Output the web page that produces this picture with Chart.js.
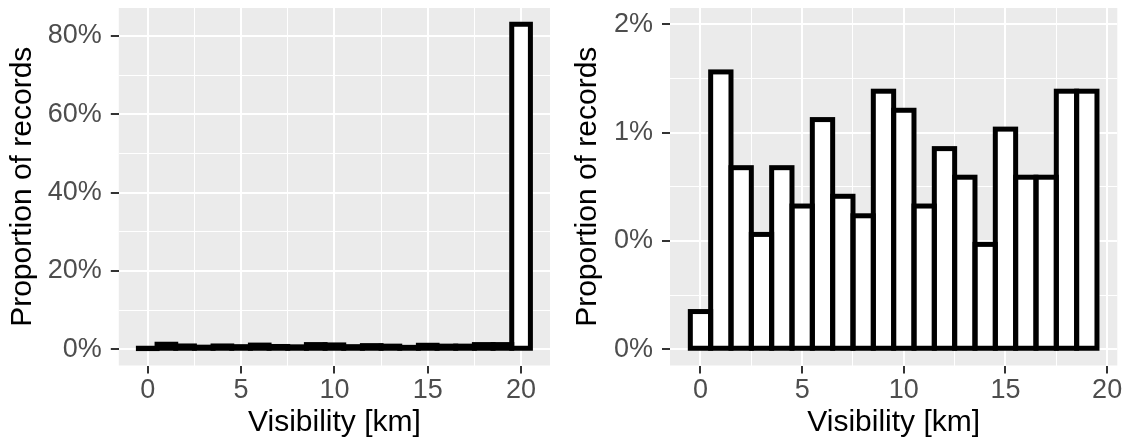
<!DOCTYPE html>
<html>
<head>
<meta charset="utf-8">
<script src="https://cdn.jsdelivr.net/npm/chart.js@4"></script>
<style>
  html, body { margin: 0; padding: 0; background: #ffffff; }
  .plot { position: absolute; top: 0; width: 564px; height: 443px; }
  #left { left: 0; }
  #right { left: 565px; }
</style>
</head>
<body>
<div class="plot" id="left"><canvas id="allChart"></canvas></div>
<div class="plot" id="right"><canvas id="lowChart"></canvas></div>
<script>
// visibility bins (km) and share of records in each bin (%)
const visibilityKm = [0, 1, 2, 3, 4, 5, 6, 7, 8, 9, 10, 11, 12, 13, 14, 15, 16, 17, 18, 19, 20];
const recordShare = [0.174, 1.280, 0.838, 0.530, 0.838, 0.661, 1.060, 0.706, 0.616, 1.191,
                     1.103, 0.661, 0.926, 0.794, 0.484, 1.016, 0.794, 0.794, 1.191, 1.191, 83.0];

// right panel: only bins below 20 km
const lowVisibilityKm = visibilityKm.slice(0, 20);
const lowRecordShare = recordShare.slice(0, 20);

const xTicks = [0, 5, 10, 15, 20];
const xTickLabels = ['0', '5', '10', '15', '20'];
const allYTicks = [0, 20, 40, 60, 80];
const allYTickLabels = ['0%', '20%', '40%', '60%', '80%'];
const lowYTicks = [0, 0.5, 1, 1.5];
const lowYTickLabels = ['0%', '0%', '1%', '2%'];
const lowYLimit = [0, 1.5];

const FONT = "'Liberation Sans', Arial, Helvetica, sans-serif";

// 5% padding on both ends, like ggplot's default continuous expansion
function expand(lo, hi) {
  const pad = (hi - lo) * 0.05;
  return [lo - pad, hi + pad];
}

function minorsBetween(majors, lo, hi) {
  const step = majors[1] - majors[0];
  const out = [];
  for (let v = majors[0] - step / 2; v <= hi; v += step) {
    if (v >= lo) out.push(v);
  }
  return out;
}

function axisScale(range, majors, labels, position, size, labelGap, title, titlePadding) {
  const minors = minorsBetween(majors, range[0], range[1]);
  const majorIndex = v => majors.findIndex(m => Math.abs(m - v) < 1e-9);
  const isMajor = c => c.tick !== undefined && majorIndex(c.tick.value) >= 0;
  return {
    type: 'linear',
    position: position,
    min: range[0],
    max: range[1],
    offset: false,
    afterBuildTicks: scale => {
      scale.ticks = majors.concat(minors).sort((a, b) => a - b).map(v => ({ value: v }));
    },
    afterFit: scale => {
      // fixed axis band, and no extra room for labels hanging past the ends
      if (position === 'left') scale.width = size;
      else scale.height = size;
      scale.paddingTop = 0;
      scale.paddingBottom = 0;
      scale.paddingLeft = 0;
      scale.paddingRight = 0;
    },
    border: { display: false },
    grid: {
      offset: false,
      color: '#FFFFFF',
      lineWidth: c => isMajor(c) ? 2 : 1,
      tickColor: c => isMajor(c) ? '#333333' : 'rgba(0,0,0,0)',
      tickWidth: 2,
      tickLength: 8
    },
    ticks: {
      autoSkip: false,
      maxRotation: 0,
      padding: labelGap,
      color: '#4D4D4D',
      font: { family: FONT, size: 27 },
      callback: v => {
        const i = majorIndex(v);
        return i < 0 ? '' : labels[i];
      }
    },
    title: {
      display: true,
      text: title,
      color: '#000000',
      font: { family: FONT, size: 30 },
      padding: titlePadding
    }
  };
}

const panelBackground = {
  id: 'panelBackground',
  beforeDraw(chart) {
    const { ctx, chartArea: a } = chart;
    ctx.save();
    ctx.fillStyle = '#EBEBEB';
    ctx.fillRect(a.left, a.top, a.right - a.left, a.bottom - a.top);
    ctx.restore();
  }
};

// black outline centred on each bar edge
const barOutline = {
  id: 'barOutline',
  afterDatasetsDraw(chart) {
    const ctx = chart.ctx;
    ctx.save();
    ctx.strokeStyle = '#000000';
    ctx.lineWidth = 5;
    ctx.lineJoin = 'miter';
    chart.getDatasetMeta(0).data.forEach(bar => {
      const { x, y, base, width } = bar.getProps(['x', 'y', 'base', 'width'], true);
      ctx.strokeRect(x - width / 2, Math.min(y, base), width, Math.abs(base - y));
    });
    ctx.restore();
  }
};

function histogram(canvasId, bins, shares, yRange, yTicks, yLabels, yAxisWidth, rightPad) {
  const xRange = expand(bins[0] - 0.5, bins[bins.length - 1] + 0.5);
  return new Chart(document.getElementById(canvasId), {
    type: 'bar',
    data: {
      datasets: [{
        data: bins.map((b, i) => ({ x: b, y: shares[i] })),
        backgroundColor: '#FFFFFF',
        borderWidth: 0,
        barPercentage: 1,
        categoryPercentage: 1
      }]
    },
    options: {
      responsive: true,
      maintainAspectRatio: false,
      animation: false,
      layout: { padding: { top: 8, right: rightPad, bottom: 0, left: 0 } },
      plugins: { legend: { display: false }, tooltip: { enabled: false } },
      scales: {
        x: axisScale(xRange, xTicks, xTickLabels, 'bottom', 77.5, 1, 'Visibility [km]', { top: 0, bottom: 2 }),
        y: axisScale(yRange, yTicks, yLabels, 'left', yAxisWidth, 9, 'Proportion of records', { top: 5, bottom: 0 })
      }
    },
    plugins: [panelBackground, barOutline]
  });
}

histogram('allChart', visibilityKm, recordShare,
  expand(0, Math.max(...recordShare)), allYTicks, allYTickLabels, 118.8, 14);
histogram('lowChart', lowVisibilityKm, lowRecordShare,
  expand(lowYLimit[0], lowYLimit[1]), lowYTicks, lowYTickLabels, 105, 11.7);
</script>
</body>
</html>
